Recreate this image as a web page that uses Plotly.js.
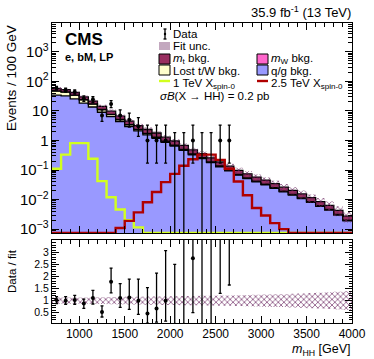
<!DOCTYPE html>
<html>
<head>
<meta charset="utf-8">
<script src="https://cdn.plot.ly/plotly-3.0.1.min.js"></script>
<style>
  body { margin: 0; background: #fff; }
  #grafico { width: 374px; height: 359px; }
</style>
</head>
<body>
<div id="grafico"></div>
<script>
// m_HH bins, 100 GeV wide
const binEdges = [700, 800, 900, 1000, 1100, 1200, 1300, 1400, 1500, 1600, 1700, 1800, 1900, 2000, 2100, 2200, 2300,
    2400, 2500, 2600, 2700, 2800, 2900, 3000, 3100, 3200, 3300, 3400, 3500, 3600, 3700, 3800, 3900, 4000]

// background components (events / bin), stacked bottom to top
const qgBkg = [34.2, 32.1, 25.5, 18.3, 13.5, 8.96, 6.35, 4.36, 2.95, 2.09, 1.55, 1.175, 0.862, 0.644, 0.459, 0.328, 0.245,
    0.178, 0.129, 0.093, 0.0674, 0.0512, 0.0397, 0.0316, 0.024, 0.0182, 0.0141, 0.0107, 0.008, 0.0059, 0.0044, 0.003, 0.0019]
const lostTW = [12.4, 11.0, 8.3, 5.3, 3.4, 2.0, 1.17, 0.66, 0.40, 0.25, 0.16, 0.107, 0.065, 0.043, 0.027, 0.0168, 0.0107,
    0.0077, 0.0056, 0.004, 0.0029, 0.0022, 0.0017, 0.0014, 0.001, 0.0008, 0.0006, 0.00047, 0.00035, 0.00026, 0.00019, 0.00013, 0.00008]
const mwBkg = [0.6, 0.5, 0.4, 0.3, 0.2, 0.14, 0.1, 0.07, 0.045, 0.03, 0.02, 0.018, 0.013, 0.01, 0.007, 0.005, 0.0036,
    0.0026, 0.0019, 0.0014, 0.001, 0.00075, 0.0006, 0.00046, 0.00035, 0.00026, 0.0002, 0.00016, 0.00012, 0.00009, 0.00006, 0.00004, 0.00003]
const mtBkg = [9.0, 8.9, 7.5, 5.6, 4.3, 3.0, 2.15, 1.52, 1.07, 0.79, 0.61, 0.48, 0.35, 0.258, 0.183, 0.129, 0.096,
    0.069, 0.05, 0.0365, 0.0264, 0.02, 0.0155, 0.0123, 0.0094, 0.0071, 0.0055, 0.0042, 0.0031, 0.0023, 0.0017, 0.00116, 0.00073]
// relative fit uncertainty
const fitUnc = [0.14, 0.13, 0.13, 0.13, 0.14, 0.14, 0.15, 0.15, 0.16, 0.16, 0.17, 0.17, 0.18, 0.18, 0.19, 0.19, 0.2,
    0.2, 0.21, 0.21, 0.22, 0.23, 0.24, 0.25, 0.26, 0.27, 0.29, 0.3, 0.32, 0.33, 0.35, 0.37, 0.39]

// signals, sigma*B = 0.2 pb
const sig1TeV = [0.11, 0.33, 0.81, 0.81, 0.24, 0.042, 0.012, 0.0046, 0.002, 0.00115, 0, 0, 0, 0, 0, 0, 0,
    0, 0, 0, 0, 0, 0, 0, 0, 0, 0, 0, 0, 0, 0, 0, 0]
const sig25TeV = [0, 0, 0, 0, 0, 0, 0, 0.0011, 0.0019, 0.0037, 0.0081, 0.018, 0.039, 0.074, 0.14, 0.23, 0.33,
    0.33, 0.22, 0.11, 0.041, 0.014, 0.0052, 0.0029, 0.0016, 0.001, 0, 0, 0, 0, 0, 0, 0]

// data (first 20 bins), with Poisson errors
const dataCounts = [58, 50, 43, 26, 24, 7, 17, 7, 5, 3, 1, 1, 1, 0, 0, 1, 0, 0, 1, 1]
const dataErrLo = [7.6, 7.04, 6.5, 5.08, 4.86, 2.58, 4.08, 2.58, 2.16, 1.63, 0.83, 0.83, 0.83, 0, 0, 0.83, 0, 0, 0.83, 0.83]
const dataErrHi = [8.66, 8.12, 7.6, 6.17, 5.96, 3.77, 5.2, 3.77, 3.38, 2.92, 2.3, 2.3, 2.3, 1.84, 1.84, 2.3, 1.84, 1.84, 2.3, 2.3]

// data / fit
const ratioVal = [1.03, 1.0, 1.03, 0.88, 1.11, 0.53, 1.78, 1.11, 1.13, 0.99, 0.47, 0.67, 0.99, 0, 0, 2.76, 0, 0, 7.5, 9.5]
const ratioLo = [0.15, 0.15, 0.18, 0.2, 0.25, 0.21, 0.46, 0.39, 0.49, 0.56, 0.41, 0.56, 0.84, 0, 0, 2.26, 0, 0, 6.2, 7.85]
const ratioHi = [0.14, 0.17, 0.19, 0.18, 0.32, 0.25, 0.57, 0.6, 0.76, 0.9, 1.07, 1.47, 2.09, 2.51, 3.9, 3.5, 4.2, 4.6, 10, 12]
const ratioTicks = [0.5, 1, 1.5, 2, 2.5, 3]

const grafico = document.getElementById('grafico')
const FONT = 'Liberation Sans, Arial, sans-serif'
const yTopRange = [-3.13, 3.97]
const yRatioRange = [0.07, 3.52]

// step helper: histogram -> points for line.shape 'hv'
function steps(vals) {
    return vals.concat([vals[vals.length - 1]])
}
const centers = binEdges.slice(0, -1).map((e, i) => (e + binEdges[i + 1]) / 2)

// cumulative stack
const s1 = qgBkg
const s2 = s1.map((v, i) => v + lostTW[i])
const s3 = s2.map((v, i) => v + mwBkg[i])
const s4 = s3.map((v, i) => v + mtBkg[i])

// empty bins of the signals are drawn on the lower frame, like ROOT does
const floorY = Math.pow(10, yTopRange[0])
const onFloor = v => (v > 0 ? v : floorY)

function stackTrace(vals, color, fill) {
    return {
        x: binEdges, y: steps(vals), xaxis: 'x2', yaxis: 'y2',
        type: 'scatter', mode: 'lines', line: { shape: 'hv', color: 'black', width: 1.3 },
        fill: fill, fillcolor: color, hoverinfo: 'skip'
    }
}

const hatch = { shape: 'x', fgcolor: '#6a2660', bgcolor: 'rgba(0,0,0,0)', size: 4, solidity: 0.3 }

const traces = [
    stackTrace(s1, '#9999ff', 'tozeroy'),
    stackTrace(s2, '#ffffcc', 'tonexty'),
    stackTrace(s3, '#ff66cc', 'tonexty'),
    stackTrace(s4, '#992f60', 'tonexty'),
    // fit uncertainty band on the total
    {
        x: binEdges, y: steps(s4.map((v, i) => v * (1 - fitUnc[i]))), xaxis: 'x2', yaxis: 'y2',
        type: 'scatter', mode: 'lines', line: { shape: 'hv', width: 0 }, hoverinfo: 'skip'
    },
    {
        x: binEdges, y: steps(s4.map((v, i) => v * (1 + fitUnc[i]))), xaxis: 'x2', yaxis: 'y2',
        type: 'scatter', mode: 'lines', line: { shape: 'hv', width: 0 }, fill: 'tonexty',
        fillcolor: 'rgba(0,0,0,0)', fillpattern: hatch, hoverinfo: 'skip'
    },
    {
        x: binEdges, y: steps(sig1TeV.map(onFloor)), xaxis: 'x2', yaxis: 'y2',
        type: 'scatter', mode: 'lines', line: { shape: 'hv', color: '#d2ff1e', width: 2.4 }
    },
    {
        x: binEdges, y: steps(sig25TeV.map(onFloor)), xaxis: 'x2', yaxis: 'y2',
        type: 'scatter', mode: 'lines', line: { shape: 'hv', color: '#b00000', width: 2.4 }
    }
]

// data points, non-empty bins
const nz = dataCounts.map((c, i) => i).filter(i => dataCounts[i] > 0)
const zz = dataCounts.map((c, i) => i).filter(i => dataCounts[i] === 0)
traces.push({
    x: nz.map(i => centers[i]), y: nz.map(i => dataCounts[i]), xaxis: 'x2', yaxis: 'y2',
    type: 'scatter', mode: 'markers', marker: { color: 'black', size: 4 },
    error_y: { type: 'data', symmetric: false, array: nz.map(i => dataErrHi[i]), arrayminus: nz.map(i => dataErrLo[i]),
        color: 'black', thickness: 1.3, width: 1.5 }
})
// empty bins: only the upper error bar, down to zero
traces.push({
    x: zz.map(i => centers[i]), y: zz.map(i => dataErrHi[i]), xaxis: 'x2', yaxis: 'y2',
    type: 'scatter', mode: 'markers', marker: { color: 'black', size: 4, opacity: 0 },
    error_y: { type: 'data', symmetric: false, array: zz.map(i => 0), arrayminus: zz.map(i => dataErrHi[i]),
        color: 'black', thickness: 1.3, width: 1.5 }
})

// ratio panel
traces.push({
    x: binEdges, y: steps(fitUnc.map(u => 1 - u)), xaxis: 'x', yaxis: 'y',
    type: 'scatter', mode: 'lines', line: { shape: 'hv', width: 0 }, hoverinfo: 'skip'
})
traces.push({
    x: binEdges, y: steps(fitUnc.map(u => 1 + u)), xaxis: 'x', yaxis: 'y',
    type: 'scatter', mode: 'lines', line: { shape: 'hv', width: 0 }, fill: 'tonexty',
    fillcolor: 'rgba(0,0,0,0)', fillpattern: hatch, hoverinfo: 'skip'
})
traces.push({
    x: centers.slice(0, ratioVal.length), y: ratioVal, xaxis: 'x', yaxis: 'y',
    type: 'scatter', mode: 'markers', marker: { color: 'black', size: 4 },
    error_y: { type: 'data', symmetric: false, array: ratioHi, arrayminus: ratioLo,
        color: 'black', thickness: 1.3, width: 1.5 }
})

// pixel -> paper helpers for the hand made legend
const px = x => (x - 52) / 300
const py = y => (323 - y) / 300

const annotations = [
    { text: '35.9 fb<sup>-1</sup> (13 TeV)', x: 1, y: py(12), xanchor: 'right', yanchor: 'middle', font: { size: 13 } },
    { text: '<b>CMS</b>', x: px(64), y: py(40), xanchor: 'left', yanchor: 'middle', font: { size: 17 } },
    { text: '<b>e, bM, LP</b>', x: px(64), y: py(57), xanchor: 'left', yanchor: 'middle', font: { size: 11 } },
    { text: 'Events / 100 GeV', x: px(12), y: py(24), xanchor: 'center', yanchor: 'top', textangle: -90, font: { size: 13.5 } },
    { text: 'Data / fit', x: px(12), y: py(248), xanchor: 'center', yanchor: 'top', textangle: -90, font: { size: 11.5 } },
    { text: '<i>m</i><sub>HH</sub> [GeV]', x: 1, y: py(349.5), xanchor: 'right', yanchor: 'middle', font: { size: 12.5 } },
    { text: 'Data', x: px(172), y: py(34), xanchor: 'left', yanchor: 'middle' },
    { text: 'Fit unc.', x: px(172), y: py(46), xanchor: 'left', yanchor: 'middle' },
    { text: '<i>m</i><sub>t</sub> bkg.', x: px(172), y: py(59), xanchor: 'left', yanchor: 'middle' },
    { text: 'Lost t/W bkg.', x: px(172), y: py(70.5), xanchor: 'left', yanchor: 'middle' },
    { text: '1 TeV X<sub>spin-0</sub>', x: px(172), y: py(83.5), xanchor: 'left', yanchor: 'middle' },
    { text: '<i>m</i><sub>W</sub> bkg.', x: px(270), y: py(59), xanchor: 'left', yanchor: 'middle' },
    { text: 'q/g bkg.', x: px(270), y: py(70.5), xanchor: 'left', yanchor: 'middle' },
    { text: '2.5 TeV X<sub>spin-0</sub>', x: px(270), y: py(83.5), xanchor: 'left', yanchor: 'middle' },
    { text: '<i>σB</i>(X → HH) = 0.2 pb', x: px(159), y: py(95.5), xanchor: 'left', yanchor: 'middle' }
].map(a => Object.assign({ xref: 'paper', yref: 'paper', showarrow: false, borderpad: 0, font: { size: 11.5 } }, a))

function box(x0, y0, x1, y1, fill) {
    return { type: 'rect', xref: 'paper', yref: 'paper', x0: px(x0), x1: px(x1), y0: py(y0), y1: py(y1),
        fillcolor: fill, line: { color: 'black', width: 1 } }
}
function seg(x0, y0, x1, y1, color, w) {
    return { type: 'line', xref: 'paper', yref: 'paper', x0: px(x0), x1: px(x1), y0: py(y0), y1: py(y1),
        line: { color: color, width: w } }
}
const shapes = [
    seg(165, 29, 165, 39, 'black', 1.3), seg(163.5, 29, 166.5, 29, 'black', 1.3), seg(163.5, 39, 166.5, 39, 'black', 1.3),
    { type: 'circle', xref: 'paper', yref: 'paper', x0: px(163.8), x1: px(166.2), y0: py(32.8), y1: py(35.2),
        fillcolor: 'black', line: { width: 0 } },
    { type: 'rect', xref: 'paper', yref: 'paper', x0: px(159), x1: px(170), y0: py(42), y1: py(50),
        fillcolor: 'rgba(106,38,96,0.4)', line: { width: 0 } },
    box(159, 54, 170, 64, '#992f60'),
    box(159, 65, 170, 75, '#ffffcc'),
    seg(159, 81, 170, 81, '#d2ff1e', 2.4),
    box(257, 54, 268, 64, '#ff66cc'),
    box(257, 65, 268, 75, '#9999ff'),
    seg(257, 81, 268, 81, '#b00000', 2.4)
]

const axisCommon = {
    showline: true, linecolor: 'black', linewidth: 1, mirror: 'allticks', ticks: 'inside',
    tickcolor: 'black', showgrid: false, zeroline: false
}

const layout = {
    width: 374, height: 359,
    margin: { l: 52, r: 22, t: 23, b: 36 },
    paper_bgcolor: 'white', plot_bgcolor: 'white',
    showlegend: false,
    font: { family: FONT, size: 12, color: 'black' },
    xaxis: Object.assign({}, axisCommon, {
        domain: [0, 1], anchor: 'y', range: [700, 4000], dtick: 500, tick0: 0, ticklen: 7,
        minor: { dtick: 100, ticks: 'inside', ticklen: 4, tickcolor: 'black' },
        tickfont: { size: 12 }
    }),
    yaxis: Object.assign({}, axisCommon, {
        domain: [0, 83 / 300], anchor: 'x', range: yRatioRange, tickmode: 'array', tickvals: ratioTicks, ticklen: 7,
        minor: { tickmode: 'linear', tick0: 0, dtick: 0.1, ticks: 'inside', ticklen: 3.5, tickcolor: 'black' },
        tickfont: { size: 10.5 }
    }),
    xaxis2: Object.assign({}, axisCommon, {
        domain: [0, 1], anchor: 'y2', matches: 'x', range: [700, 4000], dtick: 500, tick0: 0, ticklen: 7,
        showticklabels: false,
        minor: { dtick: 100, ticks: 'inside', ticklen: 4, tickcolor: 'black' }
    }),
    yaxis2: Object.assign({}, axisCommon, {
        domain: [0.3, 1], anchor: 'x2', type: 'log', range: yTopRange, dtick: 1, ticklen: 7,
        exponentformat: 'power', tickfont: { size: 12 },
        minor: { ticks: 'inside', ticklen: 4, tickcolor: 'black' }
    }),
    annotations: annotations,
    shapes: shapes
}

Plotly.newPlot(grafico, traces, layout, { staticPlot: true })
</script>
</body>
</html>
